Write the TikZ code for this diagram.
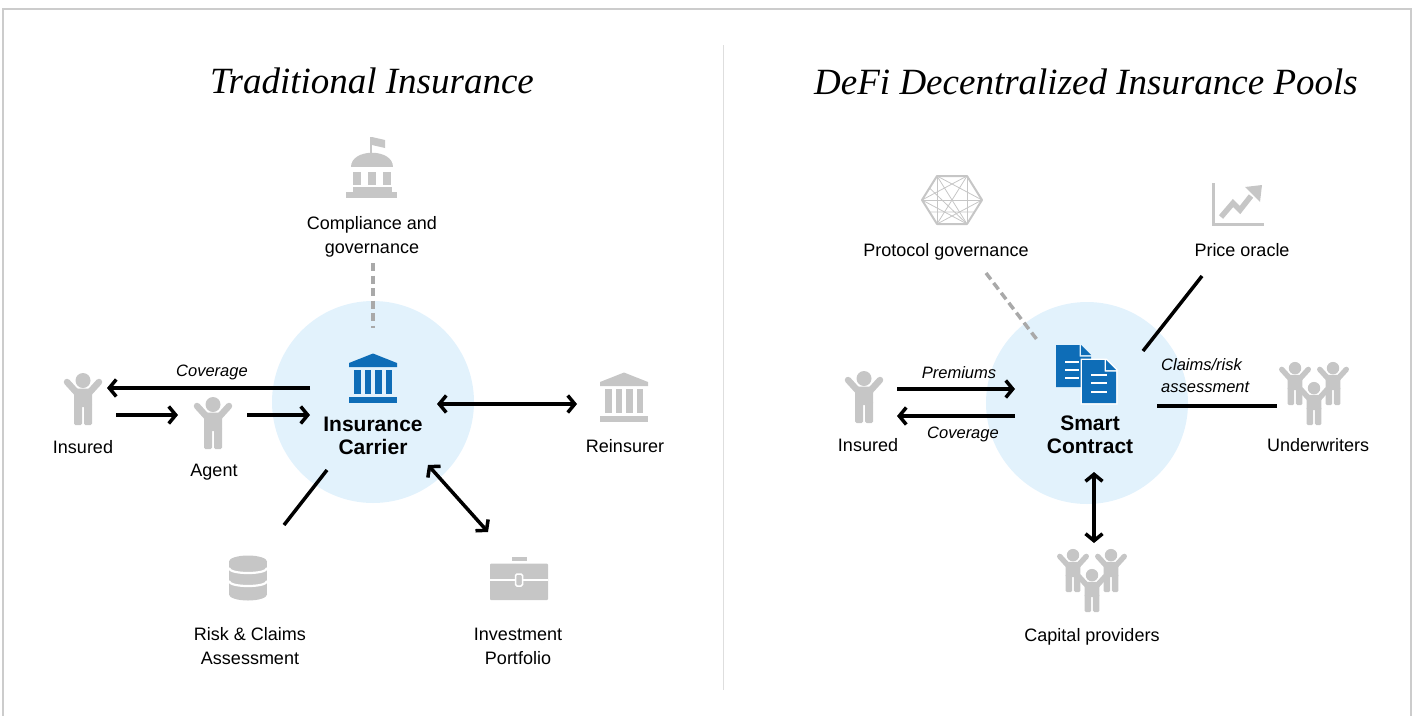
\documentclass[tikz,border=0pt]{standalone}
\usepackage{fontspec}
\setmainfont{Liberation Sans}
\newfontfamily\titlefont{Liberation Serif}
\usepackage{tikz}
\usetikzlibrary{arrows.meta}

\definecolor{icongray}{HTML}{C6C6C6}
\definecolor{iconblue}{HTML}{0E6DB7}
\definecolor{hubfill}{HTML}{E2F2FC}
\definecolor{dashgray}{HTML}{A9A9A9}
\definecolor{framegray}{HTML}{CCCCCC}

\tikzset{
  lbl/.style={font=\fontsize{18}{24}\selectfont, align=center, inner sep=0pt},
  flowlbl/.style={font=\fontsize{16.5}{22}\selectfont\itshape, align=center, inner sep=0pt},
  hubtext/.style={font=\fontsize{21}{23.5}\selectfont\bfseries, align=center, inner sep=0pt},
  headline/.style={font=\titlefont\fontsize{37}{40}\selectfont\itshape, inner sep=0pt, anchor=base},
  hub/.style={circle, fill=hubfill, minimum size=202pt, inner sep=0pt},
  oneway/.style={line width=3.5pt, -{Straight Barb[length=7pt,width=17pt]}},
  twoway/.style={line width=3.5pt, {Straight Barb[length=7pt,width=17pt]}-{Straight Barb[length=7pt,width=17pt]}},
  plainlink/.style={line width=3.5pt},
  govlink/.style={line width=3.5pt, dashgray, dash pattern=on 8pt off 4.5pt},
}

% #1 centre, #2 scale
\newcommand{\person}[2]{%
  \begin{scope}[shift={(#1)}, scale=#2]
    \fill[icongray] (0,-18.5) circle (7.5);
    \fill[icongray, rounded corners=2pt] (-9,-10.5) rectangle (9,8);
    \fill[icongray, rounded corners=1.5pt] (-9,4) rectangle (-1,26);
    \fill[icongray, rounded corners=1.5pt] (1,4) rectangle (9,26);
    \draw[icongray, line width=#2*6.5pt, line cap=round] (-6,-6) -- (-16,-17) (6,-6) -- (16,-17);
  \end{scope}}
\newcommand{\crowd}[1]{%
  \begin{scope}[shift={(#1)}]
    \person{-19,-10.5}{0.83}
    \person{19,-10.5}{0.83}
    \person{0,9.5}{0.83}
  \end{scope}}
% #1 centre, #2 colour
\newcommand{\bank}[2]{%
  \begin{scope}[shift={(#1)}]
    \fill[#2] (0,-24.5) -- (24,-15) -- (24,-11) -- (-24,-11) -- (-24,-15) -- cycle;
    \foreach \cx in {-19,-8.5,2,12.5}
      \fill[#2] (\cx,-8) rectangle ++(6.5,24);
    \fill[#2] (-24,18.5) rectangle (24,24.5);
  \end{scope}}
\newcommand{\capitol}[1]{%
  \begin{scope}[shift={(#1)}]
    \fill[icongray] (-2,-30) rectangle (0,-13);
    \fill[icongray] (0,-30) -- (13,-27) -- (13,-19) -- (0,-22) -- cycle;
    \fill[icongray] (-21,0) .. controls (-21,-19) and (21,-19) .. (21,0) -- cycle;
    \foreach \cx in {-19,-4,11}
      \fill[icongray] (\cx,5) rectangle ++(8,13);
    \fill[icongray] (-19,20) rectangle (20,25);
    \fill[icongray] (-26,25) rectangle (25,31);
  \end{scope}}
\newcommand{\dbstack}[1]{%
  \begin{scope}[shift={(#1)}]
    \fill[icongray] (0,-16.5) ellipse [x radius=19, y radius=6];
    \fill[icongray] (-19,-16.5) rectangle (19,16.5);
    \fill[icongray] (0,16.5) ellipse [x radius=19, y radius=6];
    \draw[white, line width=2.2pt] (-19,-10) .. controls (-19,-3.3) and (19,-3.3) .. (19,-10);
    \draw[white, line width=2.2pt] (-19,3) .. controls (-19,9.7) and (19,9.7) .. (19,3);
  \end{scope}}
\newcommand{\briefcase}[1]{%
  \begin{scope}[shift={(#1)}]
    \fill[icongray] (-7,-22) rectangle (8,-18.5);
    \fill[icongray, rounded corners=1pt] (-29,-15.5) rectangle (29,21);
    \draw[white, line width=1.8pt] (-29,1) -- (29,1);
    \filldraw[fill=icongray, draw=white, line width=1.5pt, rounded corners=1.5pt] (-3.5,-5) rectangle (3.5,7);
  \end{scope}}
\newcommand{\hexnet}[1]{%
  \begin{scope}[shift={(#1)}]
    \coordinate (h0) at (30,0);   \coordinate (h1) at (15,24);
    \coordinate (h2) at (-15,24); \coordinate (h3) at (-30,0);
    \coordinate (h4) at (-15,-24); \coordinate (h5) at (15,-24);
    \foreach \a/\b in {0/2,0/3,0/4,1/3,1/4,1/5,2/4,2/5,3/5}
      \draw[icongray, line width=0.8pt] (h\a) -- (h\b);
    \draw[icongray, line width=0.8pt] (-22.5,12) -- (22.5,12) (-22.5,-12) -- (15,24);
    \draw[icongray, line width=2pt, line join=round] (h0) -- (h1) -- (h2) -- (h3) -- (h4) -- (h5) -- cycle;
  \end{scope}}
\newcommand{\trendchart}[1]{%
  \begin{scope}[shift={(#1)}]
    \fill[icongray] (-26,-21) rectangle (-23,22);
    \fill[icongray] (-26,19) rectangle (26,22);
    \draw[icongray, line width=5.5pt] (-17,13) -- (-5,-1) -- (2,6) -- (13,-8);
    \fill[icongray] (7,-17) -- (24,-19) -- (22,-2) -- cycle;
  \end{scope}}
\newcommand{\contract}[1]{%
  \begin{scope}[shift={(#1)}]
    \fill[iconblue] (-30,-29) -- (-6.5,-29) -- (-6.5,-17.5) -- (5,-17.5) -- (5,13) -- (-30,13) -- cycle;
    \fill[iconblue] (-5,-29) -- (5,-19) -- (-5,-19) -- cycle;
    \foreach \ly in {-12,-4,4}
      \draw[white, line width=2.2pt] (-21,\ly) -- (-7,\ly);
    \filldraw[fill=white, draw=white, line width=3pt] (-4,-14) -- (20,-14) -- (30,-4) -- (30,29) -- (-4,29) -- cycle;
    \fill[iconblue] (-4,-14) -- (18.5,-14) -- (18.5,-2.5) -- (30,-2.5) -- (30,29) -- (-4,29) -- cycle;
    \fill[iconblue] (20,-14) -- (30,-4) -- (20,-4) -- cycle;
    \foreach \ly in {1,9,18}
      \draw[white, line width=2.2pt] (5,\ly) -- (21,\ly);
  \end{scope}}

\begin{document}
\begin{tikzpicture}[x=1pt,y=-1pt]
  \useasboundingbox (0,0) rectangle (1415,715);
  \draw[framegray, line width=1.5pt] (3,720) -- (3,9) -- (1411,9) -- (1411,720);
  \draw[black!13, line width=1pt] (723,45) -- (723,690);

  % traditional side
  \node[headline] (tradtitle) at (372,93) {Traditional Insurance};
  \node[hub] (carrierhub) at (373,402) {};
  \bank{373,378}{iconblue}
  \node[hubtext] (carrier) at (373,436) {Insurance\\Carrier};
  \capitol{372,167}
  \node[lbl] (compliance) at (372,237) {Compliance and\\governance};
  \person{83,399}{1}
  \node[lbl, anchor=base] (insured) at (83,453) {Insured};
  \person{213,423}{1}
  \node[lbl, anchor=base] (agent) at (214,476.5) {Agent};
  \bank{624,397}{icongray}
  \node[lbl, anchor=base] (reinsurer) at (625,452.5) {Reinsurer};
  \dbstack{248,578}
  \node[lbl] (risk) at (250,646) {Risk \& Claims\\Assessment};
  \briefcase{519,579}
  \node[lbl] (invest) at (518,646) {Investment\\Portfolio};

  \coordinate (covA) at (310,388);   \coordinate (covB) at (107,388);
  \coordinate (insA) at (116,415);   \coordinate (insB) at (178,415);
  \coordinate (agtA) at (247,415);   \coordinate (agtB) at (310,415);
  \coordinate (reiA) at (437,404);   \coordinate (reiB) at (577,404);
  \coordinate (rskA) at (327,470);   \coordinate (rskB) at (284,525);
  \coordinate (invA) at (428,465);   \coordinate (invB) at (488,532);
  \coordinate (cmpA) at (373,263);   \coordinate (cmpB) at (373,328);

  \draw[oneway] (covA) -- (covB);
  \node[flowlbl, anchor=base] (coverage) at (212,376) {Coverage};
  \draw[oneway] (insA) -- (insB);
  \draw[oneway] (agtA) -- (agtB);
  \draw[twoway] (reiA) -- (reiB);
  \draw[plainlink] (rskA) -- (rskB);
  \draw[twoway] (invA) -- (invB);
  \draw[govlink] (cmpA) -- (cmpB);

  % defi side
  \node[headline] (defititle) at (1086,94) {DeFi Decentralized Insurance Pools};
  \node[hub] (contracthub) at (1087,403) {};
  \contract{1086,374}
  \node[hubtext] (contract) at (1090,435) {Smart\\Contract};
  \hexnet{952,200}
  \node[lbl, anchor=base] (protocol) at (946,256.5) {Protocol governance};
  \trendchart{1238,204}
  \node[lbl, anchor=base] (oracle) at (1242,256.5) {Price oracle};
  \person{864,397}{1}
  \node[lbl, anchor=base] (insured2) at (868,451.5) {Insured};
  \crowd{1314,394}
  \node[lbl, anchor=base] (underwriters) at (1318,451.5) {Underwriters};
  \crowd{1092,581}
  \node[lbl, anchor=base] (capital) at (1092,641.5) {Capital providers};

  \coordinate (preA) at (897,389);   \coordinate (preB) at (1015,389);
  \coordinate (cvrA) at (1015,416);  \coordinate (cvrB) at (897,416);
  \coordinate (govA) at (986,273);   \coordinate (govB) at (1038,341);
  \coordinate (orcA) at (1143,351);  \coordinate (orcB) at (1202,276);
  \coordinate (undA) at (1157,406);  \coordinate (undB) at (1277,406);
  \coordinate (capA) at (1094,472);  \coordinate (capB) at (1094,543);

  \draw[oneway] (preA) -- (preB);
  \node[flowlbl, anchor=base] (premiums) at (959,378) {Premiums};
  \draw[oneway] (cvrA) -- (cvrB);
  \node[flowlbl, anchor=base] (coverage2) at (963,438) {Coverage};
  \draw[govlink] (govA) -- (govB);
  \draw[plainlink] (orcA) -- (orcB);
  \draw[plainlink] (undA) -- (undB);
  \node[flowlbl, anchor=west, align=left] (claims) at (1161,376) {Claims/risk\\assessment};
  \draw[twoway] (capA) -- (capB);
\end{tikzpicture}
\end{document}
